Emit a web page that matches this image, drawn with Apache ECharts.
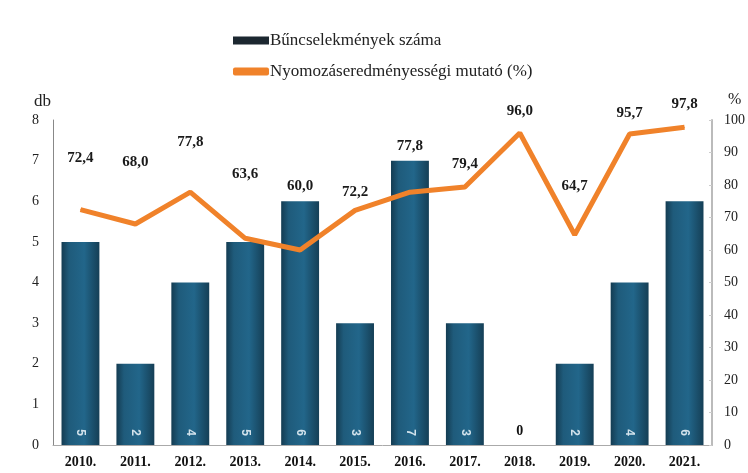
<!DOCTYPE html>
<html>
<head>
<meta charset="utf-8">
<script src="https://cdn.jsdelivr.net/npm/echarts@6/dist/echarts.min.js"></script>
<style>
html, body { margin: 0; padding: 0; background: #fff; }
#chart { width: 748px; height: 473px; }
</style>
</head>
<body>
<div id="chart"></div>
<script>
var years = ['2010.', '2011.', '2012.', '2013.', '2014.', '2015.', '2016.', '2017.', '2018.', '2019.', '2020.', '2021.'];
var crimes = [5, 2, 4, 5, 6, 3, 7, 3, 0, 2, 4, 6];
var rate = [72.4, 68.0, 77.8, 63.6, 60.0, 72.2, 77.8, 79.4, 96.0, 64.7, 95.7, 97.8];
// gap between point and its label
var labelGap = [44, 54, 42, 56, 56, 10, 38, 15, 14, 41, 13, 15];

var serif = '"Liberation Serif", "DejaVu Serif", serif';

var chart = echarts.init(document.getElementById('chart'));

var barColor = new echarts.graphic.LinearGradient(0, 0, 1, 0, [
    { offset: 0, color: '#143c52' },
    { offset: 0.2, color: '#1f5b7b' },
    { offset: 0.6, color: '#22668a' },
    { offset: 1, color: '#153f56' }
]);

var option = {
    backgroundColor: '#fff',
    animation: false,
    legend: {
        orient: 'vertical',
        left: 228,
        top: 27,
        itemGap: 14,
        itemWidth: 36,
        itemHeight: 8,
        textStyle: { fontFamily: serif, fontSize: 17, color: '#222', padding: [0, 0, 0, -4] },
        data: [
            { name: 'Bűncselekmények száma', icon: 'rect', itemStyle: { color: '#1c2730' } },
            { name: 'Nyomozáseredményességi mutató (%)', icon: 'roundRect', itemStyle: { color: '#f0822a' } }
        ]
    },
    grid: { left: 53, right: 35, top: 120, bottom: 28 },
    xAxis: {
        type: 'category',
        data: years,
        axisLine: { lineStyle: { color: '#aaa' } },
        axisTick: { show: false },
        axisLabel: { fontFamily: serif, fontSize: 14, fontWeight: 'bold', color: '#111', margin: 10 }
    },
    yAxis: [
        {
            type: 'value', min: 0, max: 8, interval: 1,
            name: 'db', nameLocation: 'end', nameGap: 10,
            nameTextStyle: { fontFamily: serif, fontSize: 17, color: '#222', align: 'right', padding: [0, 2, 0, 0] },
            axisLine: { show: true, lineStyle: { color: '#888' } },
            axisTick: { show: false },
            splitLine: { show: false },
            axisLabel: { fontFamily: serif, fontSize: 14, color: '#222', margin: 14 }
        },
        {
            type: 'value', min: 0, max: 100, interval: 10,
            name: '%', nameLocation: 'end', nameGap: 12,
            nameTextStyle: { fontFamily: serif, fontSize: 16, color: '#222', align: 'left', padding: [0, 0, 0, 16] },
            axisLine: { show: true, lineStyle: { color: '#bbb', width: 2 } },
            axisTick: { show: true, inside: true, length: 3, lineStyle: { color: '#ccc' } },
            splitLine: { show: false },
            axisLabel: { fontFamily: serif, fontSize: 14, color: '#222', margin: 12 }
        }
    ],
    series: [
        {
            name: 'Bűncselekmények száma',
            type: 'bar',
            barWidth: '69%',
            data: crimes.map(function (v) {
                if (v === 0) {
                    return { value: v, label: { color: '#111', fontFamily: serif, fontSize: 14, rotate: 0, align: 'center', distance: 14 } };
                }
                return v;
            }),
            itemStyle: { color: barColor },
            label: {
                show: true,
                position: 'insideBottom',
                rotate: -90,
                distance: 9,
                align: 'right',
                verticalAlign: 'middle',
                fontFamily: 'Liberation Sans, sans-serif',
                fontSize: 12,
                fontWeight: 'bold',
                color: '#d3e3ec'
            }
        },
        {
            name: 'Nyomozáseredményességi mutató (%)',
            type: 'line',
            yAxisIndex: 1,
            data: rate.map(function (v, i) {
                return { value: v, label: { distance: labelGap[i] } };
            }),
            symbol: 'circle',
            symbolSize: 1,
            showSymbol: true,
            lineStyle: { color: '#f0822a', width: 5 },
            itemStyle: { color: '#f0822a' },
            z: 5,
            label: {
                show: true,
                position: 'top',
                fontFamily: serif,
                fontSize: 15,
                fontWeight: 'bold',
                color: '#1a1a1a',
                formatter: function (p) { return p.value.toFixed(1).replace('.', ','); }
            }
        }
    ]
};

chart.setOption(option);
</script>
</body>
</html>
